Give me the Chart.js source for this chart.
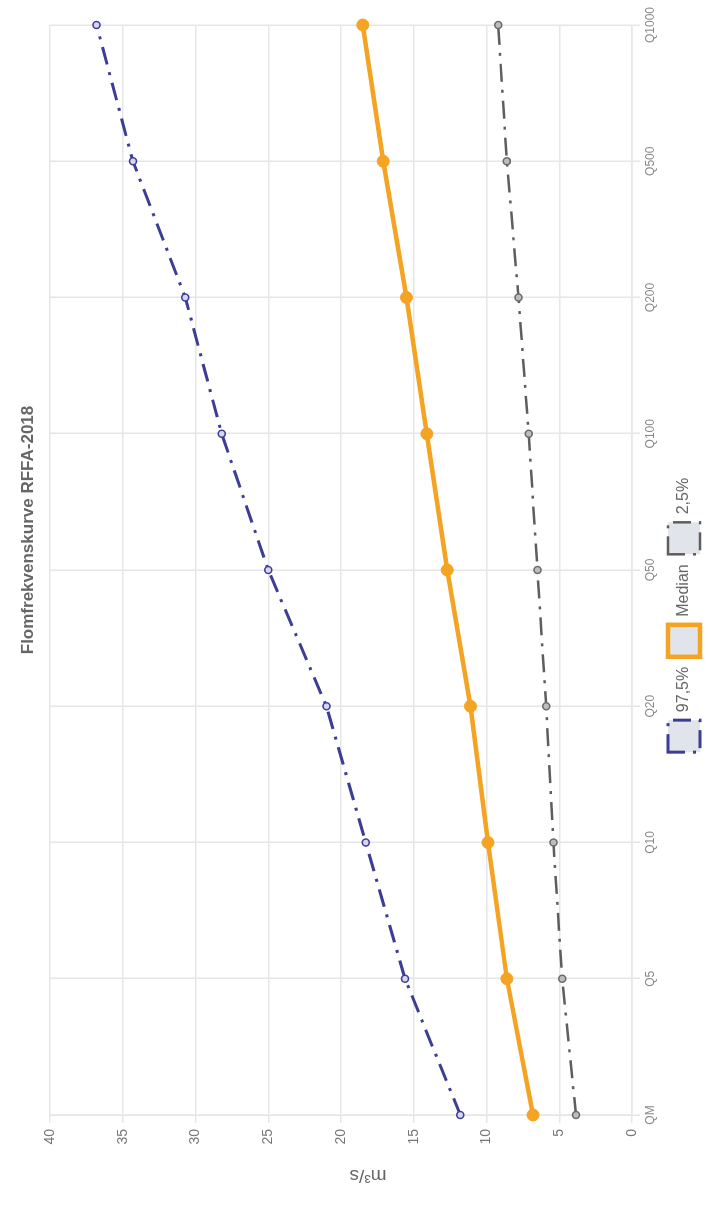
<!DOCTYPE html>
<html>
<head>
<meta charset="utf-8">
<script src="https://cdn.jsdelivr.net/npm/chart.js@4/dist/chart.umd.min.js"></script>
<style>
  html, body { margin: 0; padding: 0; background: #fff; overflow: hidden; }
  body { width: 710px; height: 1205px; position: relative; }
  /* the chart is drawn landscape and turned a quarter left, like the scan */
  #ramme {
    position: absolute; left: 0; top: 0;
    width: 1205px; height: 710px;
    transform-origin: 0 0;
    transform: translate(0, 1205px) rotate(-90deg);
  }
</style>
</head>
<body>
<div id="ramme"><canvas id="flomKurve" width="1205" height="710"></canvas></div>
<script>
// --- DATA (lest av figuren) ---
const gjentaksintervall = ['QM', 'Q5', 'Q10', 'Q20', 'Q50', 'Q100', 'Q200', 'Q500', 'Q1000'];
const ovre975 = [11.8, 15.6, 18.3, 21.0, 25.0, 28.2, 30.7, 34.3, 36.8];
const median = [6.8, 8.6, 9.9, 11.1, 12.7, 14.1, 15.5, 17.1, 18.5];
const nedre25 = [3.85, 4.8, 5.4, 5.9, 6.5, 7.1, 7.8, 8.6, 9.2];
const yTicks = [0, 5, 10, 15, 20, 25, 30, 35, 40];
const tittel = 'Flomfrekvenskurve RFFA-2018';
const yTittel = 'm³/s';

const gridFarge = '#e6e6e6';
const tekstFarge = '#666666';
const fontFamilie = "'Liberation Sans', Arial, sans-serif";

// tittel og aksetittel sitter litt skjevt i originalen, så de tegnes her
const fasteTitler = {
  id: 'fasteTitler',
  afterDraw(chart) {
    const { ctx, chartArea } = chart;
    ctx.save();
    ctx.fillStyle = tekstFarge;
    ctx.textAlign = 'center';
    ctx.textBaseline = 'middle';
    ctx.font = `bold 17px ${fontFamilie}`;
    ctx.fillText(tittel, 675, 28);
    ctx.translate(30, (chartArea.top + chartArea.bottom) / 2 + 27);
    ctx.rotate(-Math.PI / 2);
    ctx.font = `19px ${fontFamilie}`;
    ctx.fillText(yTittel, 0, 0);
    ctx.restore();
  }
};

const ctx = document.getElementById('flomKurve').getContext('2d');
const flomGraf = new Chart(ctx, {
  type: 'line',
  data: {
    labels: gjentaksintervall,
    datasets: [
      {
        label: '97,5%',
        data: ovre975,
        borderColor: '#3d3d96',
        backgroundColor: 'rgba(205,210,220,0.6)',
        borderWidth: 3,
        borderDash: [18, 8, 3, 8],
        pointRadius: 3.5,
        pointBorderWidth: 1.5,
        pointBackgroundColor: '#d6d6ee',
        pointBorderColor: '#3d3d96',
        tension: 0
      },
      {
        label: 'Median',
        data: median,
        borderColor: '#f4a323',
        backgroundColor: 'rgba(205,210,220,0.6)',
        borderWidth: 4.5,
        pointRadius: 6,
        pointBorderWidth: 1,
        pointBackgroundColor: '#f4a323',
        pointBorderColor: '#f4a323',
        tension: 0
      },
      {
        label: '2,5%',
        data: nedre25,
        borderColor: '#5e5e5e',
        backgroundColor: 'rgba(205,210,220,0.6)',
        borderWidth: 2.5,
        borderDash: [18, 8, 3, 8],
        pointRadius: 3.5,
        pointBorderWidth: 1.5,
        pointBackgroundColor: '#bdbdbd',
        pointBorderColor: '#6a6a6a',
        tension: 0
      }
    ]
  },
  options: {
    responsive: false,
    animation: false,
    layout: { padding: { left: 0, right: 25, top: 50, bottom: 0 } },
    plugins: {
      title: { display: false },
      legend: {
        display: true,
        position: 'bottom',
        labels: {
          color: tekstFarge,
          boxWidth: 32,
          boxHeight: 32,
          padding: 10,
          font: { family: fontFamilie, size: 16 }
        }
      },
      tooltip: { enabled: false }
    },
    scales: {
      x: {
        offset: false,
        grid: { color: gridFarge, lineWidth: 1.5, tickLength: 8 },
        border: { color: gridFarge, width: 1.5 },
        ticks: { color: '#888888', font: { family: fontFamilie, size: 12 }, maxRotation: 0, padding: 3 },
        afterFit: (skala) => { skala.height = 26; }
      },
      y: {
        min: 0,
        max: 40,
        afterBuildTicks: (skala) => { skala.ticks = yTicks.map(v => ({ value: v })); },
        grid: { color: gridFarge, lineWidth: 1.5, tickLength: 8 },
        border: { color: gridFarge, width: 1.5 },
        ticks: { color: '#777777', font: { family: fontFamilie, size: 14 }, padding: 6 },
        afterFit: (skala) => { skala.width = 90; }
      }
    }
  },
  plugins: [fasteTitler]
});
</script>
</body>
</html>
